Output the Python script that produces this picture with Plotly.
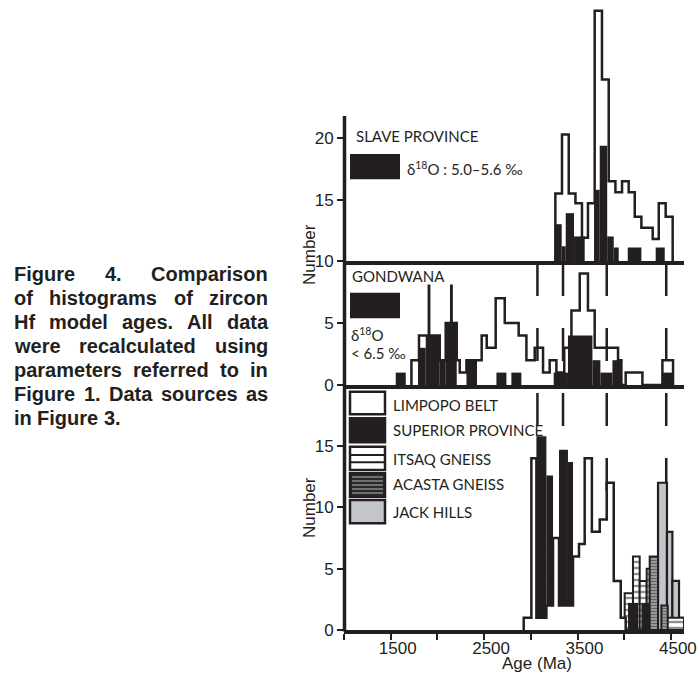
import plotly.graph_objects as go

# ---------------- data (Ma, counts) ----------------
# Top panel: Slave Province (baseline of this panel is 10)
SLAVE_EDGES = [3263, 3334, 3406, 3478, 3548, 3612, 3684, 3762, 3834, 3906, 3977, 4048, 4113, 4184, 4305, 4370, 4444, 4519]
SLAVE_COUNTS = [15.5, 20.3, 15.5, 14.7, 11.9, 14.7, 30.4, 24.8, 16.5, 15.6, 16.5, 15.6, 13.6, 12.7, 11.8, 14.7, 13.6]
SLAVE_O_LEFT = [3256, 3331, 3374, 3463, 3677, 3738, 3818, 3888, 4038, 4337]
SLAVE_O_RIGHT = [3331, 3374, 3463, 3577, 3738, 3818, 3888, 3941, 4184, 4434]
SLAVE_O_COUNTS = [13.0, 11.2, 13.9, 12.0, 15.8, 19.4, 12.0, 11.1, 11.1, 11.1]

# Middle panel: Gondwana
GOND_EDGES = [1722, 1803, 1908, 1912, 2025, 2089, 2148, 2152, 2207, 2239, 2311, 2474, 2528, 2624, 2721,
              2870, 2953, 3042, 3131, 3202, 3274, 3358, 3435, 3524, 3612, 3684, 3934, 3970, 4016, 4195, 4409, 4523]
GOND_COUNTS = [2, 4, 8, 4, 2, 5, 8, 5, 2, 1, 2, 4, 3, 7, 5, 4, 2, 3, 1, 2, 1, 3, 6, 9, 6, 3, 2, 0, 1, 0, 2]
GOND_O_LEFT = [1554, 1792, 1875, 2025, 2089, 2311, 2632, 2792, 3245, 3398, 3660, 3745, 3874, 4409]
GOND_O_RIGHT = [1661, 1875, 2025, 2089, 2207, 2424, 2739, 2899, 3398, 3660, 3745, 3874, 3970, 4523]
GOND_O_COUNTS = [1, 3, 4, 2, 5, 2, 1, 1, 1, 4, 2, 1, 2, 1]

# Bottom panel
LIMPOPO_EDGES = [2924, 3006, 3060, 3167, 3238, 3302, 3452, 3516, 3577, 3654, 3738, 3813, 3888, 3963, 4016]
LIMPOPO_COUNTS = [1, 14, 1, 2, 7.5, 2, 6, 7, 14, 8, 9, 12, 4, 1]
SUPERIOR_LEFT = [3060, 3167, 3238, 3302, 3398, 4041, 4184, 4398]
SUPERIOR_RIGHT = [3167, 3238, 3363, 3398, 3452, 4148, 4273, 4466]
SUPERIOR_BASE = [1, 2, 0, 2, 2, 0, 0, 0]
SUPERIOR_TOP = [15.8, 12.6, 2, 14.7, 13.7, 2.2, 2.2, 1]
ITSAQ_LEFT = [4005, 4094, 4166, 4241, 4452]
ITSAQ_RIGHT = [4094, 4166, 4241, 4273, 4640]
ITSAQ_COUNTS = [3, 6, 4, 5, 1]
ACASTA_LEFT = [4273, 4398]
ACASTA_RIGHT = [4362, 4466]
ACASTA_COUNTS = [6, 2]
JACK_LEFT = [4362, 4458, 4516, 4587]
JACK_RIGHT = [4458, 4516, 4587, 4640]
JACK_COUNTS = [12, 8, 4, 1]

DASH_AGES = [3071, 3345, 3813, 4450]
X_TICKS = [1000, 1500, 2000, 2500, 3000, 3500, 4000, 4500]
X_LABELS = ["", "1500", "", "2500", "", "3500", "", "4500"]

CAPTION = ["Figure 4. Comparison", "of histograms of zircon", "Hf model ages. All data",
           "were recalculated using", "parameters referred to in", "Figure 1. Data sources as",
           "in Figure 3."]

# ---------------- geometry ----------------
W, H = 700, 679
L, R, T, B = 344, 16, 5, 49
PW, PH = W - L - R, H - T - B
PX_PER_MA = 0.0934
XMIN = 1000
XMAX = XMIN + PW / PX_PER_MA
PX_PER_N = 12.27
INK = "#231f20"
GREY = "#c2c6c8"
TICKFONT = dict(family="Liberation Sans", size=17, color=INK)
LABFONT = dict(family="Lato", size=15, color=INK)


def pxx(p):
    return (p - L) / PW


def pxy(p):
    return (H - B - p) / PH


dom_bot = [0, pxy(385)]
dom_mid = [pxy(385), pxy(261)]
dom_top = [pxy(261), 1]
range_bot = [0, (630 - 385) / PX_PER_N]
range_mid = [0, 10]
range_top = [10, 10 + (261 - T) / PX_PER_N]


def step_xy(edges, counts, base):
    xs = [edges[0]] + list(edges[:-1]) + [edges[-1], edges[-1]]
    ys = [base] + list(counts) + [counts[-1], base]
    return xs, ys


def bars(left, right, top, base, xa, ya, **marker):
    return go.Bar(x=left, y=[t - b for t, b in zip(top, base)], base=base,
                  width=[r - l for l, r in zip(left, right)], offset=0,
                  xaxis=xa, yaxis=ya, marker=marker, hoverinfo="skip")


fig = go.Figure()

# top panel
sx, sy = step_xy(SLAVE_EDGES, SLAVE_COUNTS, 10)
fig.add_trace(go.Scatter(x=sx, y=sy, mode="lines", line=dict(color=INK, width=2.5, shape="hv"),
                         xaxis="x3", yaxis="y3"))
fig.add_trace(bars(SLAVE_O_LEFT, SLAVE_O_RIGHT, SLAVE_O_COUNTS, [10] * len(SLAVE_O_LEFT), "x3", "y3",
                   color=INK, line=dict(width=0)))

# middle panel
gx, gy = step_xy(GOND_EDGES, GOND_COUNTS, 0)
fig.add_trace(bars(GOND_O_LEFT, GOND_O_RIGHT, GOND_O_COUNTS, [0] * len(GOND_O_LEFT), "x2", "y2",
                   color=INK, line=dict(width=0)))
fig.add_trace(go.Scatter(x=gx, y=gy, mode="lines", line=dict(color=INK, width=2.5, shape="hv"),
                         xaxis="x2", yaxis="y2"))

# bottom panel
lx, ly = step_xy(LIMPOPO_EDGES, LIMPOPO_COUNTS, 0)
fig.add_trace(go.Scatter(x=lx, y=ly, mode="lines", fill="tozeroy", fillcolor="white",
                         line=dict(color=INK, width=2.5, shape="hv"), xaxis="x", yaxis="y"))
fig.add_trace(bars(JACK_LEFT, JACK_RIGHT, JACK_COUNTS, [0] * len(JACK_LEFT), "x", "y",
                   color=GREY, line=dict(color=INK, width=2.2)))
fig.add_trace(bars(ITSAQ_LEFT, ITSAQ_RIGHT, ITSAQ_COUNTS, [0] * len(ITSAQ_LEFT), "x", "y",
                   color="white", line=dict(color=INK, width=2),
                   pattern=dict(shape="-", fgcolor=INK, bgcolor="white", size=6, solidity=0.4)))
fig.add_trace(bars(SUPERIOR_LEFT, SUPERIOR_RIGHT, SUPERIOR_TOP, SUPERIOR_BASE, "x", "y",
                   color=INK, line=dict(width=0)))
fig.add_trace(bars(ACASTA_LEFT, ACASTA_RIGHT, ACASTA_COUNTS, [0] * len(ACASTA_LEFT), "x", "y",
                   color="#8f9193", line=dict(color=INK, width=2),
                   pattern=dict(shape="-", fgcolor=INK, bgcolor="#a7a9ab", size=3, solidity=0.5)))

shapes = []
# y axis line
shapes.append(dict(type="line", xref="paper", yref="paper", x0=pxx(344.5), x1=pxx(344.5),
                   y0=pxy(631.5), y1=pxy(116), line=dict(color=INK, width=3.5)))
# dashed reference lines
for a in DASH_AGES:
    shapes.append(dict(type="line", xref="x", yref="paper", x0=a, x1=a, y0=pxy(263), y1=pxy(560),
                       layer="below", line=dict(color=INK, width=2.5, dash="33px,32px")))
# black key boxes
for y0, y1 in [(154, 179.3), (292.7, 318.3)]:
    shapes.append(dict(type="rect", xref="paper", yref="paper", x0=pxx(350), x1=pxx(400),
                       y0=pxy(y1), y1=pxy(y0), fillcolor=INK, line=dict(width=0)))
# legend swatches
sw = [(391.7, 414.3, "white"), (418.3, 442.3, INK), (446.7, 470, "white"), (473.3, 496.7, "#2b2829"),
      (500, 523.3, GREY)]
for y0, y1, c in sw:
    shapes.append(dict(type="rect", xref="paper", yref="paper", x0=pxx(350), x1=pxx(385),
                       y0=pxy(y1), y1=pxy(y0), fillcolor=c, line=dict(color=INK, width=2.5)))
for yy in [455, 462.3]:
    shapes.append(dict(type="line", xref="paper", yref="paper", x0=pxx(351), x1=pxx(384),
                       y0=pxy(yy), y1=pxy(yy), line=dict(color=INK, width=2)))
for yy in [477, 481, 485, 489, 493]:
    shapes.append(dict(type="line", xref="paper", yref="paper", x0=pxx(352), x1=pxx(383),
                       y0=pxy(yy), y1=pxy(yy), line=dict(color="#9a9a9a", width=1.3)))

ann = []


def text(s, x, y, font=LABFONT, xanchor="left", **kw):
    ann.append(dict(text=s, x=pxx(x), y=pxy(y), xref="paper", yref="paper", showarrow=False,
                    xanchor=xanchor, yanchor="middle", font=font, **kw))


text("SLAVE PROVINCE", 354, 136)
text("δ<sup>18</sup>O : 5.0–5.6 ‰", 405, 168)
text("GONDWANA", 350, 276)
text("δ<sup>18</sup>O", 349, 334)
text("&lt; 6.5 ‰", 349, 353)
for s, y in zip(["LIMPOPO BELT", "SUPERIOR PROVINCE", "ITSAQ GNEISS", "ACASTA GNEISS", "JACK HILLS"],
                [405, 430, 459, 484.3, 511.7]):
    text(s, 391, y)
text("Number", 309, 255, font=TICKFONT, xanchor="center", textangle=-90)
text("Number", 309, 508, font=TICKFONT, xanchor="center", textangle=-90)
text("Age (Ma)", 536.7, 663, font=TICKFONT, xanchor="center")

# justified caption (Arial/Liberation Sans Bold metrics)
CW = {' ': 278, '.': 278, '1': 556, '3': 556, '4': 556, 'A': 722, 'C': 722, 'D': 722, 'F': 611, 'H': 722,
      'a': 556, 'c': 556, 'd': 611, 'e': 556, 'f': 333, 'g': 611, 'h': 611, 'i': 278, 'l': 278, 'm': 889,
      'n': 611, 'o': 611, 'p': 611, 'r': 389, 's': 556, 't': 333, 'u': 611, 'w': 778, 'z': 500}
CAP_SIZE = 20
CAP_FONT = dict(family="Liberation Sans", size=CAP_SIZE, color=INK, weight="bold")
cx0, cx1 = 12, 266
for i, line in enumerate(CAPTION):
    words = line.split()
    ws = [sum(CW.get(ch, 556) for ch in w) * CAP_SIZE / 1000 for w in words]
    if i < len(CAPTION) - 1 and len(words) > 1:
        gap = (cx1 - cx0 - sum(ws)) / (len(words) - 1)
    else:
        gap = CW[' '] * CAP_SIZE / 1000
    x = cx0
    yy = 274 + 24 * i
    for w, wd in zip(words, ws):
        text(w, x, yy, font=CAP_FONT)
        x += wd + gap

axis_common = dict(range=[XMIN, XMAX], showgrid=False, zeroline=False, showline=True,
                   linewidth=3.5, linecolor=INK)
y_common = dict(showgrid=False, zeroline=False, showline=False, ticks="outside", ticklen=6,
                tickwidth=2, tickcolor=INK, tickfont=TICKFONT)

fig.update_layout(
    width=W, height=H, margin=dict(l=L, r=R, t=T, b=B, autoexpand=False),
    barmode="overlay", showlegend=False, plot_bgcolor="white", paper_bgcolor="white",
    xaxis=dict(anchor="y", tickvals=X_TICKS, ticktext=X_LABELS, ticks="outside", ticklen=6,
               tickwidth=2, tickcolor=INK, tickfont=TICKFONT, ticklabelshift=7,
               ticklabelstandoff=-6, **axis_common),
    xaxis2=dict(anchor="y2", showticklabels=False, ticks="", matches="x", **axis_common),
    xaxis3=dict(anchor="y3", showticklabels=False, ticks="", matches="x", **axis_common),
    yaxis=dict(domain=dom_bot, range=range_bot, anchor="x", tickvals=[0, 5, 10, 15], **y_common),
    yaxis2=dict(domain=dom_mid, range=range_mid, anchor="x2", tickvals=[0, 5], **y_common),
    yaxis3=dict(domain=dom_top, range=range_top, anchor="x3", tickvals=[10, 15, 20], **y_common),
    shapes=shapes, annotations=ann,
)

fig.write_html("out.html")
